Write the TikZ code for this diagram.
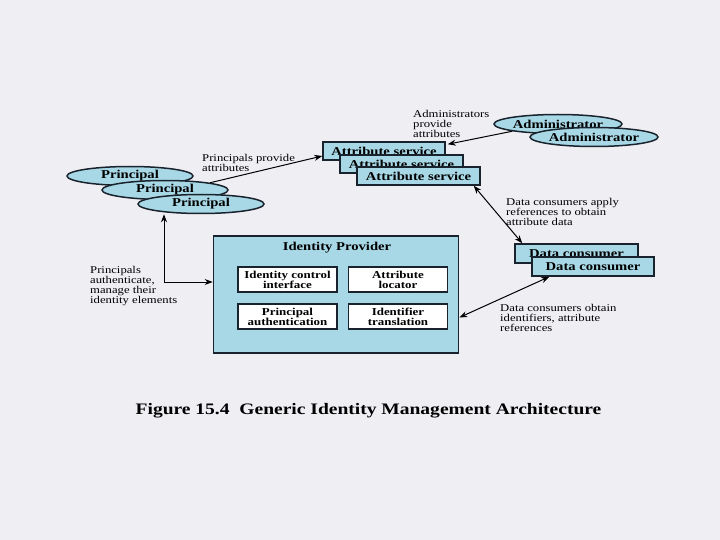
\documentclass[tikz,border=0pt]{standalone}
\usepackage{fontspec}
\setmainfont{Liberation Serif}[FakeStretch=1.22]
\usetikzlibrary{shapes.geometric,arrows.meta}
\definecolor{bgc}{RGB}{239,238,243}
\definecolor{fillb}{RGB}{168,216,230}
\definecolor{edgec}{RGB}{25,35,45}
\begin{document}
\begin{tikzpicture}[x=1pt,y=-1pt,
 ell/.style={ellipse, draw=edgec, line width=1.5pt, fill=fillb, minimum width=126pt, minimum height=19pt, inner sep=0pt, font=\fontsize{12}{12}\selectfont\bfseries},
 sbox/.style={rectangle, draw=edgec, line width=1.5pt, fill=fillb, minimum height=18pt, inner sep=0pt, font=\fontsize{12}{12}\selectfont\bfseries},
 ibox/.style={rectangle, draw=edgec, line width=1.2pt, fill=white, minimum width=99pt, minimum height=25pt, inner sep=0pt, align=center, font=\fontsize{10.6}{10}\selectfont\bfseries},
 lbl/.style={anchor=north west, align=left, inner sep=0pt, font=\fontsize{10.4}{10}\selectfont},
 arr/.style={line width=1pt, draw=black, -{Stealth[length=8pt,width=6pt]}},
 darr/.style={line width=1pt, draw=black, {Stealth[length=8pt,width=6pt]}-{Stealth[length=8pt,width=6pt]}}
]
\fill[bgc] (0,0) rectangle (720,540);
\useasboundingbox (0,0) rectangle (720,540);

% principals
\node[ell] (P1) at (130,176) {Principal};
\node[ell] (P2) at (165,190) {Principal};
\node[ell] (P3) at (201,204) {Principal};

% administrators
\node[ell, minimum width=128pt] (Ad1) at (558,124) {Administrator};
\node[ell, minimum width=128pt] (Ad2) at (594,137) {Administrator};

% attribute services
\node[sbox, minimum width=122pt] (A1) at (384,151) {Attribute service};
\node[sbox, minimum width=123pt] (A2) at (401.5,164) {Attribute service};
\node[sbox, minimum width=123pt] (A3) at (418.5,176) {Attribute service};

% identity provider
\node[rectangle, draw=edgec, line width=1.6pt, fill=fillb, minimum width=245pt, minimum height=117pt, inner sep=0pt] (IdP) at (336,294.5) {};
\node[font=\fontsize{12}{12}\selectfont\bfseries, inner sep=0pt] (IdPt) at (337,248) {Identity Provider};
\node[ibox] (ICI) at (287.5,279.5) {Identity control\\interface};
\node[ibox] (AL) at (398,279.5) {Attribute\\locator};
\node[ibox] (PA) at (287.5,316.5) {Principal\\authentication};
\node[ibox] (IT) at (398,316.5) {Identifier\\translation};

% data consumers
\node[sbox, minimum width=123pt, minimum height=19pt] (D1) at (576.5,253.5) {Data consumer};
\node[sbox, minimum width=122pt, minimum height=19pt] (D2) at (593,266.5) {Data consumer};

% labels
\node[lbl] (Lpp) at (202,154) {Principals provide\\attributes};
\node[lbl] (Lap) at (413,110) {Administrators\\provide\\attributes};
\node[lbl] (Ldca) at (506,198) {Data consumers apply\\references to obtain\\attribute data};
\node[lbl] (Lpa) at (90,266) {Principals\\authenticate,\\manage their\\identity elements};
\node[lbl] (Ldco) at (500,304) {Data consumers obtain\\identifiers, attribute\\references};

% connectors
\draw[arr] (P2.north east) -- ([yshift=-5pt]A1.west);
\draw[arr] (Ad1.south west) -- ([xshift=2pt,yshift=-3pt]A1.north east);
\draw[darr] ([xshift=-7pt]A3.south east) -- ([xshift=8pt]D1.north west);
\draw[darr] ([xshift=18pt]D2.south west) -- ([yshift=-23pt]IdP.east);
\coordinate (bend) at (164,282);
\draw[darr] (bend |- P3.south) -- (bend) -- (IdP.west |- bend);

% caption
\node[font=\fontsize{16}{16}\selectfont\bfseries, inner sep=0pt] (cap) at (368.5,411) {Figure 15.4\ \ Generic Identity Management Architecture};
\end{tikzpicture}
\end{document}
